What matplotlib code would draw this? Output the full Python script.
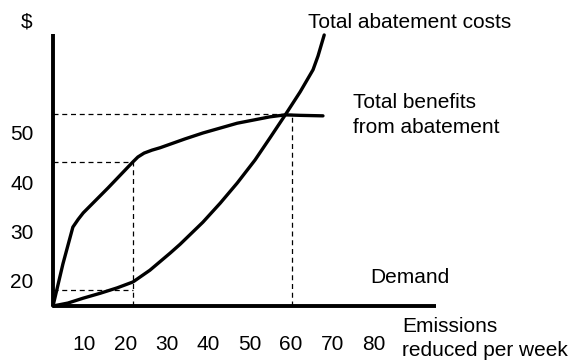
import matplotlib
matplotlib.use("Agg")
import matplotlib.pyplot as plt

plt.rcParams['font.family'] = ['Liberation Sans', 'DejaVu Sans']

# data (schematic, axis units)
benefits_x = [2.5, 4.9, 7.3, 8.6, 9.8, 15.8, 21.8, 23.0, 24.5, 26.4, 28.4, 34.4,
              38.7, 47.0, 54.9, 58.6, 62.2, 67.7]
benefits_y = [14.7, 23.3, 30.8, 32.4, 33.7, 38.8, 44.1, 45.1, 45.9, 46.5, 47.0, 48.8,
              50.0, 52.0, 53.3, 53.7, 53.6, 53.5]

costs_x = [2.5, 6.1, 9.8, 13.9, 18.0, 21.8, 25.9, 30.8, 33.2, 38.7, 42.9, 47.0,
           51.3, 54.9, 58.6, 62.2, 65.3, 66.5, 68.0]
costs_y = [14.7, 15.3, 16.3, 17.3, 18.4, 19.6, 22.0, 25.5, 27.3, 31.8, 35.7, 39.8,
           44.5, 49.0, 53.7, 58.4, 62.9, 65.7, 70.0]

x_ticks = [10, 20, 30, 40, 50, 60, 70, 80]
y_ticks = [20, 30, 40, 50]

# dashed guide corners
guides = [(21.8, 44.1), (60.2, 53.9)]
low_guide = (21.8, 18.0)

x0, y0 = 2.5, 14.7

fig = plt.figure(figsize=(5.73, 3.6), dpi=100)
ax = fig.add_axes([53 / 573, 54 / 360, 383 / 573, 272 / 360])
ax.set_xlim(x0, 95.0)
ax.set_ylim(y0, 70.2)

ax.plot(benefits_x, benefits_y, color='black', lw=2.4, solid_joinstyle='round',
        solid_capstyle='round', clip_on=False)
ax.plot(costs_x, costs_y, color='black', lw=2.4, solid_joinstyle='round',
        solid_capstyle='round', clip_on=False)

dash = dict(color='black', lw=0.9, linestyle=(0, (4, 3)))
for gx, gy in guides:
    ax.plot([x0, gx], [gy, gy], **dash)
    ax.plot([gx, gx], [y0, gy], **dash)
ax.plot([x0, low_guide[0]], [low_guide[1], low_guide[1]], **dash)

for side in ['top', 'right']:
    ax.spines[side].set_visible(False)
for side in ['left', 'bottom']:
    ax.spines[side].set_linewidth(2.8)
    ax.spines[side].set_capstyle('butt')

fs = 15
ax.set_xticks(x_ticks)
ax.set_yticks(y_ticks)
ax.tick_params(axis='both', length=0, labelsize=fs)
ax.tick_params(axis='x', pad=21)
ax.tick_params(axis='y', pad=14)

ax.text(-3.8, 72.6, "$", fontsize=fs, ha='center', va='center')
ax.text(64.1, 72.6, "Total abatement costs", fontsize=fs, ha='left', va='center')
ax.text(75.0, 56.3, "Total benefits", fontsize=fs, ha='left', va='center')
ax.text(75.0, 51.2, "from abatement", fontsize=fs, ha='left', va='center')
ax.text(79.1, 20.6, "Demand", fontsize=fs, ha='left', va='center')
ax.text(86.8, 10.6, "Emissions", fontsize=fs, ha='left', va='center')
ax.text(86.8, 5.7, "reduced per week", fontsize=fs, ha='left', va='center')

fig.savefig("out.png", dpi=100)
